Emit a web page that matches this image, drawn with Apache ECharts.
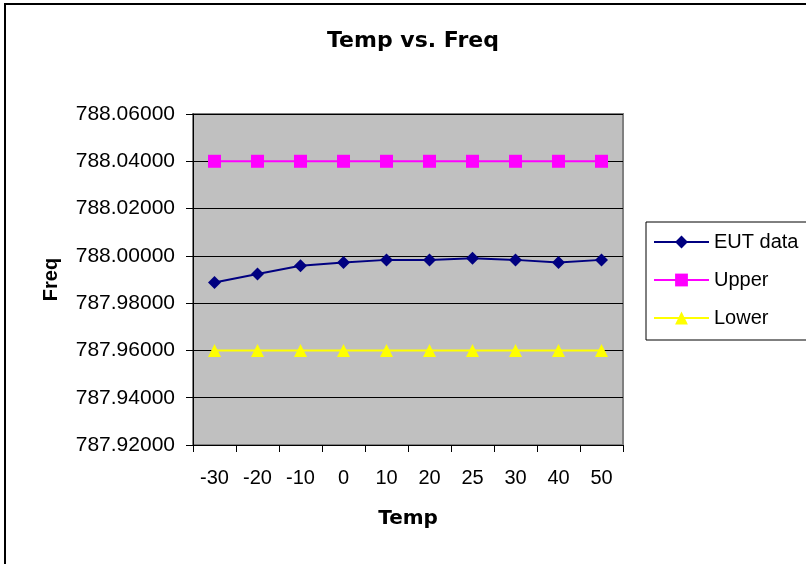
<!DOCTYPE html>
<html>
<head>
<meta charset="utf-8">
<script src="https://cdn.jsdelivr.net/npm/echarts@6/dist/echarts.min.js"></script>
<style>html,body{margin:0;padding:0;background:#fff}#c{width:806px;height:564px}</style>
</head>
<body>
<div id="c"></div>
<script>
var categories = ['-30','-20','-10','0','10','20','25','30','40','50'];
var eutData = [787.9887, 787.9923, 787.9958, 787.9972, 787.9983, 787.9983, 787.9990, 787.9983, 787.9972, 787.9983];
var upper = [788.04, 788.04, 788.04, 788.04, 788.04, 788.04, 788.04, 788.04, 788.04, 788.04];
var lower = [787.96, 787.96, 787.96, 787.96, 787.96, 787.96, 787.96, 787.96, 787.96, 787.96];

var font = '"Liberation Sans", Arial, sans-serif';
var wide = '"DejaVu Sans", sans-serif';
var chart = echarts.init(document.getElementById('c'), null, {renderer: 'canvas'});
chart.setOption({
  animation: false,
  backgroundColor: '#fff',
  textStyle: {fontFamily: font},
  graphic: [{type: 'rect', shape: {x: 5, y: 4, width: 900, height: 700}, style: {fill: 'none', stroke: '#000', lineWidth: 2}, z: 100}],
  title: {text: 'Temp vs. Freq', left: 322, top: 25, textStyle: {fontFamily: wide, fontSize: 22, fontWeight: 'bold', color: '#000'}},
  grid: {left: 193, right: 183, top: 114, bottom: 119, show: true, backgroundColor: '#C0C0C0', borderColor: '#808080', borderWidth: 2},
  legend: {
    orient: 'vertical', left: 646, top: 222,
    padding: [10, 60, 12, 7],
    borderColor: '#000', borderWidth: 1,
    itemWidth: 55, itemHeight: 16, itemGap: 18,
    textStyle: {fontFamily: font, fontSize: 20, color: '#000'},
    data: ['EUT data', 'Upper', 'Lower']
  },
  xAxis: {
    type: 'category', data: categories, boundaryGap: true,
    axisLine: {lineStyle: {color: '#000', width: 1}},
    axisTick: {show: true, length: 7, lineStyle: {color: '#000'}},
    axisLabel: {fontSize: 20, color: '#000', margin: 23},
    name: 'Temp', nameLocation: 'middle', nameGap: 64,
    nameTextStyle: {fontFamily: wide, fontSize: 20, fontWeight: 'bold', color: '#000'}
  },
  yAxis: {
    type: 'value', min: 787.92, max: 788.06, interval: 0.02,
    axisLine: {show: true, lineStyle: {color: '#000', width: 1}},
    axisTick: {show: true, length: 7, lineStyle: {color: '#000'}},
    axisLabel: {fontSize: 21, color: '#000', margin: 18, formatter: function (v) { return v.toFixed(5); }},
    splitLine: {lineStyle: {color: '#000', width: 1}},
    name: 'Freq', nameLocation: 'middle', nameGap: 132, nameRotate: 90,
    nameTextStyle: {fontSize: 20, fontWeight: 'bold', color: '#000'}
  },
  series: [
    {name: 'EUT data', type: 'line', data: eutData, symbol: 'diamond', symbolSize: 13,
     itemStyle: {color: '#000080'}, lineStyle: {color: '#000080', width: 2}},
    {name: 'Upper', type: 'line', data: upper, symbol: 'rect', symbolSize: 13,
     itemStyle: {color: '#FF00FF'}, lineStyle: {color: '#FF00FF', width: 2}},
    {name: 'Lower', type: 'line', data: lower, symbol: 'triangle', symbolSize: 13,
     itemStyle: {color: '#FFFF00'}, lineStyle: {color: '#FFFF00', width: 2}}
  ]
});
</script>
</body>
</html>
